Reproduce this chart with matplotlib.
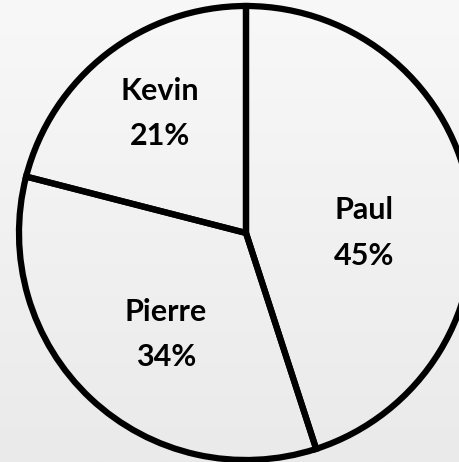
import matplotlib.pyplot as plt
import numpy as np

names = ['Paul', 'Pierre', 'Kevin']
shares = [45, 34, 21]

# where each label sits, as fraction of radius and degrees off the slice middle
label_dist = [0.52, 0.57, 0.65]
label_turn = [-9, 5, -2]

fig = plt.figure(figsize=(4.6, 4.62), dpi=100)

# light gray vertical gradient behind the pie
bg = fig.add_axes([0, 0, 1, 1])
grad = np.linspace(0, 1, 256).reshape(-1, 1)
bg.imshow(grad, aspect='auto', cmap=plt.cm.colors.LinearSegmentedColormap.from_list(
    'bg', ['#f8f8f8', '#eaeaea']), extent=[0, 1, 0, 1], origin='upper')
bg.axis('off')

ax = fig.add_axes([19 / 460, 2 / 462, 454 / 460, 454 / 462])
labels = [f'{n}\n{s}%' for n, s in zip(names, shares)]
wedges, texts = ax.pie(shares, labels=labels, startangle=90, counterclock=False,
                       labeldistance=0.55,
                       wedgeprops=dict(facecolor='none', edgecolor='black', linewidth=4.5),
                       textprops=dict(fontfamily='Lato', fontweight='bold', fontsize=22,
                                      ha='center', va='center', linespacing=1.75))
for w, t, d, turn in zip(wedges, texts, label_dist, label_turn):
    ang = np.deg2rad((w.theta1 + w.theta2) / 2 + turn)
    t.set_position((d * np.cos(ang), d * np.sin(ang)))

ax.set_xlim(-1, 1)
ax.set_ylim(-1, 1)
ax.set_aspect('equal')
ax.axis('off')

fig.savefig('out.png', dpi=100)
